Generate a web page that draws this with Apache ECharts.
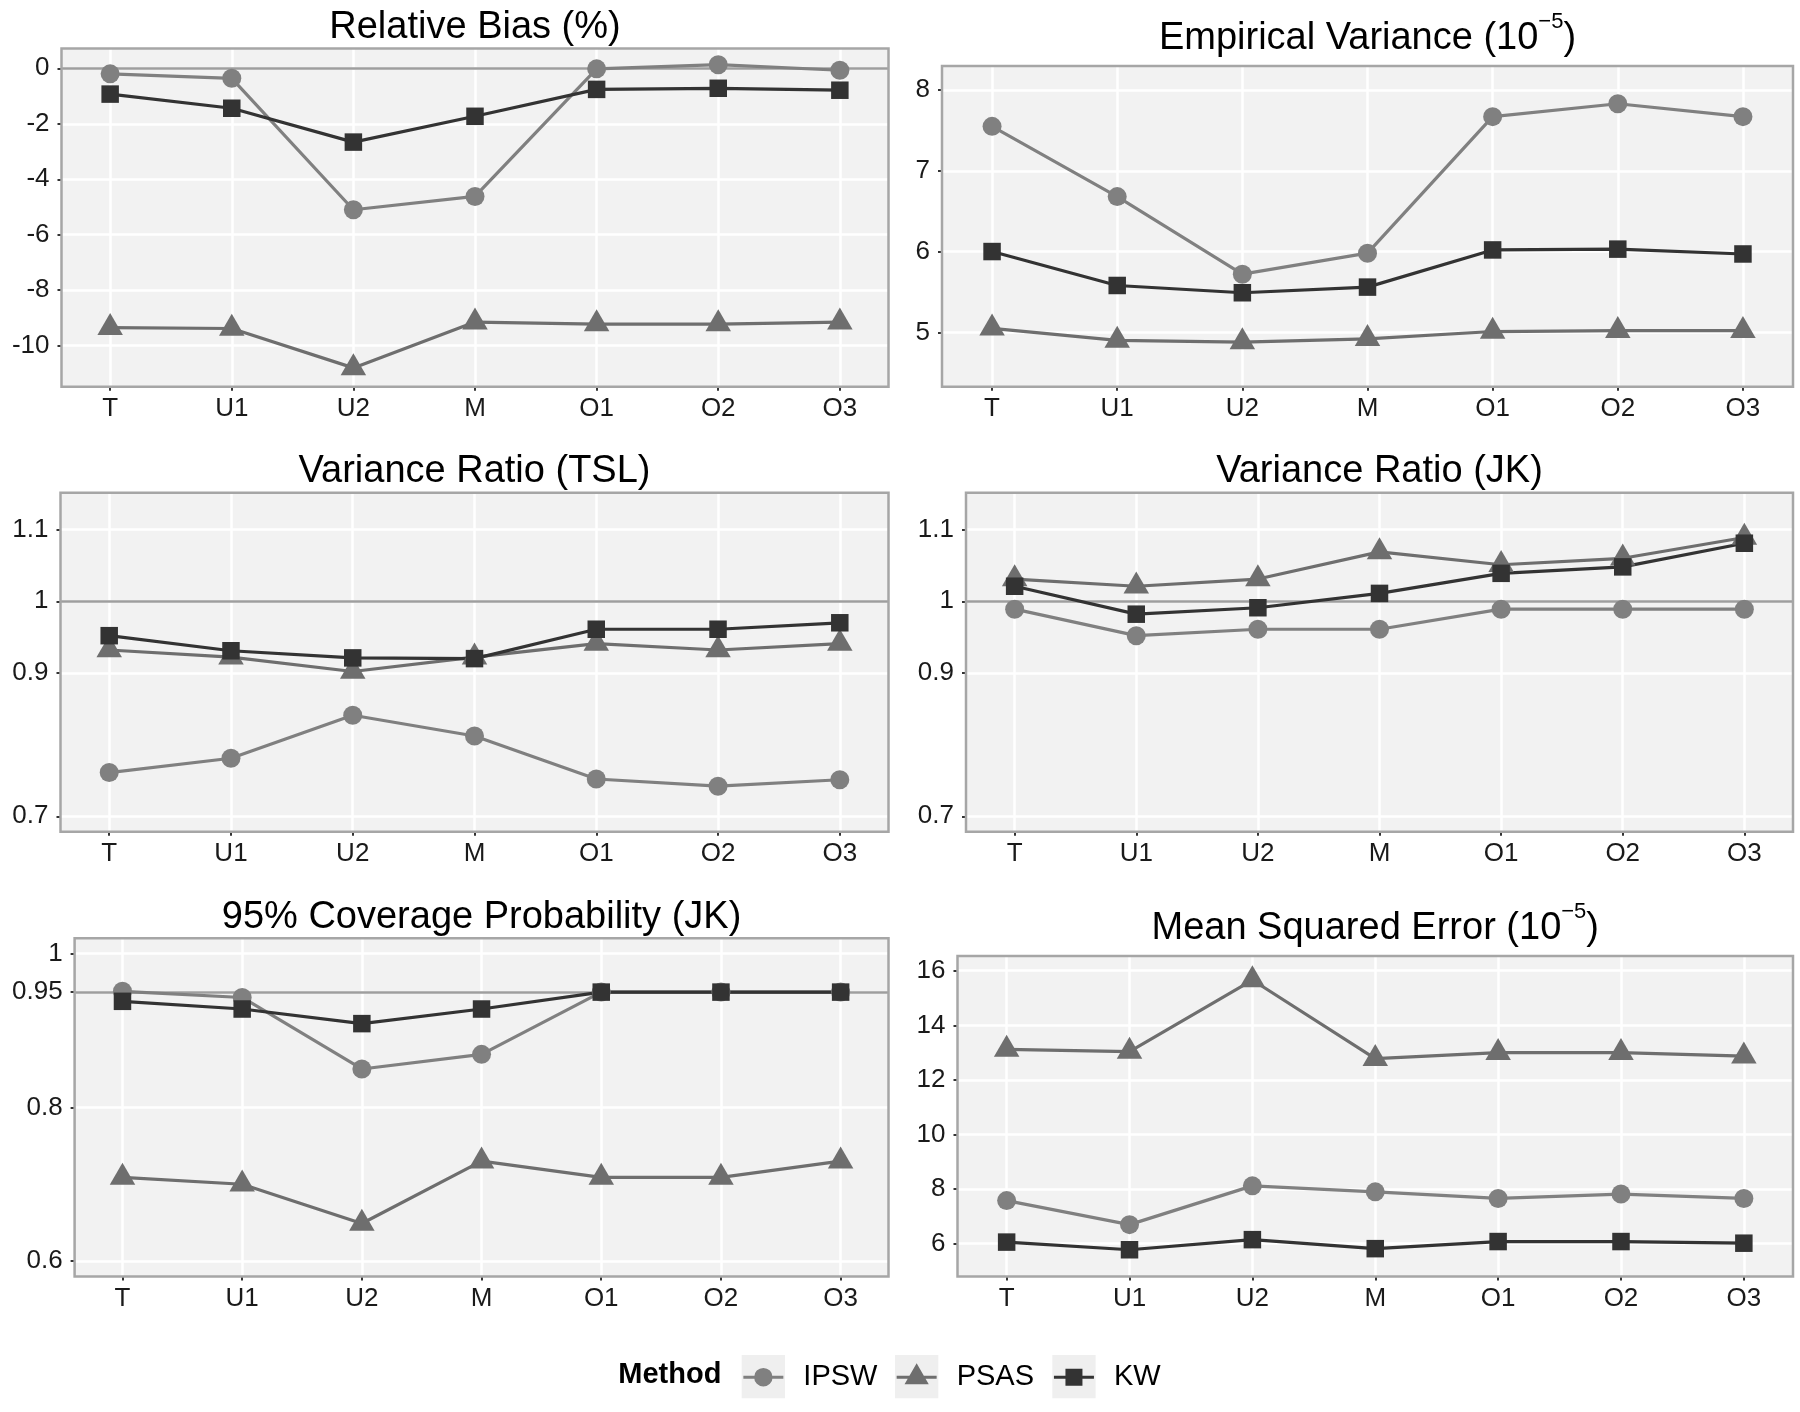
<!DOCTYPE html>
<html>
<head>
<meta charset="utf-8">
<script src="https://cdn.jsdelivr.net/npm/echarts@6/dist/echarts.min.js"></script>
<style>html,body{margin:0;padding:0;background:#fff}#c{width:1800px;height:1412px}</style>
</head>
<body>
<div id="c"></div>
<script>
// ---------------- data ----------------
const categories = ['T', 'U1', 'U2', 'M', 'O1', 'O2', 'O3'];
const methods = ['IPSW', 'PSAS', 'KW'];

const biasIPSW = [-0.2, -0.36, -5.1, -4.62, -0.02, 0.13, -0.07];
const biasPSAS = [-9.35, -9.38, -10.8, -9.15, -9.22, -9.22, -9.15];
const biasKW   = [-0.93, -1.44, -2.66, -1.73, -0.76, -0.72, -0.79];

const empVarIPSW = [7.55, 6.68, 5.72, 5.98, 7.67, 7.83, 7.67];
const empVarPSAS = [5.05, 4.90, 4.88, 4.92, 5.01, 5.02, 5.02];
const empVarKW   = [6.00, 5.58, 5.49, 5.56, 6.02, 6.03, 5.97];

const vrTslIPSW = [0.761, 0.781, 0.841, 0.812, 0.752, 0.742, 0.751];
const vrTslPSAS = [0.932, 0.922, 0.902, 0.922, 0.941, 0.932, 0.941];
const vrTslKW   = [0.952, 0.931, 0.921, 0.920, 0.961, 0.961, 0.970];

const vrJkIPSW = [0.989, 0.952, 0.961, 0.961, 0.989, 0.989, 0.989];
const vrJkPSAS = [1.031, 1.021, 1.031, 1.069, 1.051, 1.060, 1.089];
const vrJkKW   = [1.021, 0.982, 0.991, 1.011, 1.039, 1.048, 1.081];

const covIPSW = [0.951, 0.943, 0.850, 0.869, 0.950, 0.950, 0.950];
const covPSAS = [0.709, 0.700, 0.649, 0.730, 0.709, 0.709, 0.730];
const covKW   = [0.938, 0.928, 0.909, 0.928, 0.950, 0.950, 0.950];

const mseIPSW = [7.58, 6.70, 8.12, 7.90, 7.66, 7.82, 7.66];
const msePSAS = [13.12, 13.04, 15.66, 12.78, 13.00, 13.00, 12.87];
const mseKW   = [6.06, 5.78, 6.15, 5.82, 6.08, 6.08, 6.02];

// tick labels per panel
const ticksBias   = [-10, -8, -6, -4, -2, 0];
const ticksEmpVar = [5, 6, 7, 8];
const ticksVR     = [0.7, 0.9, 1, 1.1];
const ticksCov    = [0.6, 0.8, 0.95, 1];
const ticksMSE    = [6, 8, 10, 12, 14, 16];

// axis ranges [min, max]
const rangeBias   = [-11.478, 0.714];
const rangeEmpVar = [4.327, 8.297];
const rangeVR     = [0.6785, 1.1515];
const rangeCov    = [0.58, 1.02];
const rangeMSE    = [4.80, 16.54];

// reference lines
const refBias = 0, refVR = 1, refCov = 0.95;

// titles
const titleMain = ['Relative Bias (%)', 'Empirical Variance (10', 'Variance Ratio (TSL)', 'Variance Ratio (JK)', '95% Coverage Probability (JK)', 'Mean Squared Error (10'];
const titleSup  = ['', '\u22125', '', '', '', '\u22125'];

// ---------------- panels ----------------
const panelData = [
  {vals: [biasIPSW, biasPSAS, biasKW],       ticks: ticksBias,   range: rangeBias,   ref: refBias},
  {vals: [empVarIPSW, empVarPSAS, empVarKW], ticks: ticksEmpVar, range: rangeEmpVar, ref: null},
  {vals: [vrTslIPSW, vrTslPSAS, vrTslKW],    ticks: ticksVR,     range: rangeVR,     ref: refVR},
  {vals: [vrJkIPSW, vrJkPSAS, vrJkKW],       ticks: ticksVR,     range: rangeVR,     ref: refVR},
  {vals: [covIPSW, covPSAS, covKW],          ticks: ticksCov,    range: rangeCov,    ref: refCov},
  {vals: [mseIPSW, msePSAS, mseKW],          ticks: ticksMSE,    range: rangeMSE,    ref: null}
];

// layout (pixels)
const layout = [
  {l: 61.5,  t: 48.5,  r: 888.5, b: 386.7,  ty: 27.9},
  {l: 942,   t: 66,    r: 1793,  b: 386.7,  ty: 39},
  {l: 60.5,  t: 492.7, r: 888.5, b: 831.7,  ty: 471.7},
  {l: 966,   t: 492.7, r: 1793,  b: 831.7,  ty: 471.7},
  {l: 74.6,  t: 938.3, r: 888.5, b: 1276.5, ty: 917.5},
  {l: 957.5, t: 956,   r: 1793,  b: 1276.5, ty: 929}
];

const FONT = '"Liberation Sans", Arial, Helvetica, sans-serif';
const colors = ['#808080', '#6E6E6E', '#333333'];
const symbols = ['circle', 'triangle', 'rect'];
const symSizes = [19, [25.5, 22], 17.5];
const symOffsets = [[0, 0], [0, -3.7], [0, 0]];
const panelBg = '#F2F2F2';
const borderColor = '#A6A6A6';
const refColor = '#9E9E9E';
const tickColor = '#333333';
const labelColor = '#1A1A1A';

const grids = [], xAxes = [], yAxes = [], series = [], graphics = [];
const xIdx = categories.map((c, k) => k);

layout.forEach((g, i) => {
  const pd = panelData[i];
  grids.push({left: g.l, top: g.t, width: g.r - g.l, height: g.b - g.t, show: true,
    backgroundColor: panelBg, borderWidth: 0, containLabel: false, outerBoundsMode: 'none'});
  xAxes.push({type: 'value', gridIndex: i, min: -0.4, max: 6.4,
    axisLine: {show: false, onZero: false},
    splitLine: {show: false}, minorSplitLine: {show: false},
    axisTick: {show: true, customValues: xIdx, length: 4, lineStyle: {color: tickColor, width: 2}},
    axisLabel: {show: true, customValues: xIdx, margin: 9, fontSize: 26, fontFamily: FONT, color: labelColor,
      formatter: v => categories[Math.round(v)]}
  });
  yAxes.push({type: 'value', gridIndex: i, min: pd.range[0], max: pd.range[1],
    axisLine: {show: false, onZero: false},
    splitLine: {show: false}, minorSplitLine: {show: false},
    axisTick: {show: true, customValues: pd.ticks, length: 4, lineStyle: {color: tickColor, width: 2}},
    axisLabel: {show: true, customValues: pd.ticks, margin: 12, fontSize: 26, fontFamily: FONT, color: labelColor,
      formatter: v => String(v)}
  });
  // gridlines + reference line
  const ml = [];
  pd.ticks.forEach(v => ml.push({yAxis: v}));
  xIdx.forEach(k => ml.push({xAxis: k}));
  if (pd.ref != null) ml.push({yAxis: pd.ref, lineStyle: {color: refColor, width: 2.6, type: 'solid'}});
  series.push({type: 'line', name: 'grid' + i, xAxisIndex: i, yAxisIndex: i, data: [], silent: true, z: 1,
    markLine: {z: 1, silent: true, symbol: ['none', 'none'], animation: false, label: {show: false},
      emphasis: {disabled: true}, lineStyle: {color: '#FFFFFF', width: 2.5, type: 'solid'}, data: ml}});
  // lines
  methods.forEach((m, s) => {
    series.push({type: 'line', name: m, xAxisIndex: i, yAxisIndex: i, z: 3, silent: true,
      data: pd.vals[s].map((v, k) => [k, v]), symbol: 'none', showSymbol: false,
      lineStyle: {color: colors[s], width: 3.2}, itemStyle: {color: colors[s]}, emphasis: {disabled: true}});
  });
  // points
  methods.forEach((m, s) => {
    series.push({type: 'scatter', name: m, xAxisIndex: i, yAxisIndex: i, z: 4, silent: true,
      data: pd.vals[s].map((v, k) => [k, v]), symbol: symbols[s], symbolSize: symSizes[s],
      symbolOffset: symOffsets[s], itemStyle: {color: colors[s], opacity: 1}, emphasis: {disabled: true}});
  });
  // border
  graphics.push({type: 'rect', z: 100, silent: true,
    shape: {x: g.l, y: g.t, width: g.r - g.l, height: g.b - g.t},
    style: {fill: 'none', stroke: borderColor, lineWidth: 2.5}});
  // title
  const cx = (g.l + g.r) / 2;
  if (titleSup[i]) {
    graphics.push({type: 'text', z: 100, silent: true, x: cx, y: g.ty,
      style: {text: '{m|' + titleMain[i] + '}{s|' + titleSup[i] + '}{m|)}', align: 'center', verticalAlign: 'middle',
        rich: {m: {fontSize: 38, fontFamily: FONT, fill: '#000', lineHeight: 56, verticalAlign: 'middle'},
               s: {fontSize: 22, fontFamily: FONT, fill: '#000', lineHeight: 22, verticalAlign: 'top'}}}});
  } else {
    graphics.push({type: 'text', z: 100, silent: true, x: cx, y: g.ty,
      style: {text: titleMain[i], fontSize: 38, fontFamily: FONT, fill: '#000', align: 'center', verticalAlign: 'middle'}});
  }
});

// legend
const legendIcons = [
  'path://M0,12.5H40V15.5H0Z M10.75,14A9.25,9.25 0 1,1 29.25,14A9.25,9.25 0 1,1 10.75,14Z',
  'path://M0,12.5H40V15.5H0Z M20,0L32.1,21L7.9,21Z M19.95,28L20.05,28L20,27.95Z',
  'path://M0,12.5H40V15.5H0Z M11.5,5.5H28.5V22.5H11.5Z'
];
const legendKeyX = [741.7, 895, 1052.3];
const legendKeyY = 1355, legendKeySize = 43.3;
graphics.push({type: 'text', z: 100, silent: true, x: 618.3, y: 1375,
  style: {text: 'Method', fontSize: 29, fontWeight: 'bold', fontFamily: FONT, fill: '#000', align: 'left', verticalAlign: 'middle'}});
legendKeyX.forEach(x => graphics.push({type: 'rect', z: 0, silent: true,
  shape: {x: x, y: legendKeyY, width: legendKeySize, height: legendKeySize}, style: {fill: '#EFEFEF'}}));

const legends = methods.map((m, s) => ({
  data: [{name: m, icon: legendIcons[s], itemStyle: {color: colors[s], borderWidth: 0}}],
  left: legendKeyX[s] + legendKeySize / 2 - 20, top: legendKeyY + legendKeySize / 2 - 14,
  itemWidth: 40, itemHeight: 28, symbolKeepAspect: true, padding: 0, selectedMode: false, z: 10,
  textStyle: {fontSize: 29, fontFamily: FONT, color: '#000', padding: [0, 0, 0, 15]}
}));

const chart = echarts.init(document.getElementById('c'), null, {renderer: 'canvas'});
chart.setOption({
  animation: false,
  backgroundColor: '#FFFFFF',
  grid: grids,
  xAxis: xAxes,
  yAxis: yAxes,
  legend: legends,
  series: series,
  graphic: {elements: graphics}
});
</script>
</body>
</html>
